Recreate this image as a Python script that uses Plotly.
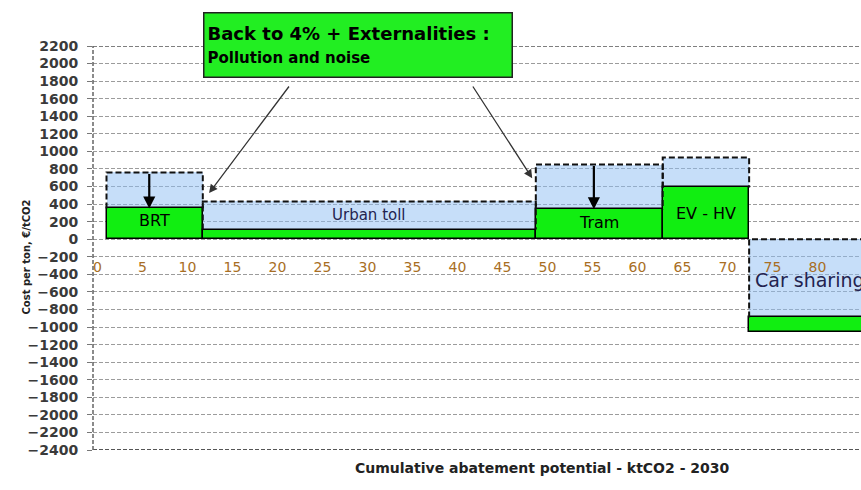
import plotly.graph_objects as go

# ---------------- data ----------------
names = ["BRT", "Urban toll", "Tram", "EV - HV", "Car sharing"]
x_start = [1.0, 11.7, 48.7, 62.8, 72.4]
x_end = [11.7, 48.7, 62.8, 72.4, 86.0]
cost_before = [760, 430, 850, 930, -890]     # light blue, dashed outline
cost_after = [350, 110, 340, 590, -1060]     # green
label_y = [217, 274, 194, 296, -467]
label_size = [16, 15, 16, 16, 19]
label_color = ["#000000", "#23234f", "#000000", "#000000", "#23234f"]
arrow_bars = ["BRT", "Tram"]

y_ticks = list(range(-2400, 2201, 200))
x_ticks = list(range(0, 86, 5))

callout_x = [12.4, 48.3]
callout_y = [525, 695]
callout_tail_x = [21.4, 41.6]
callout_tail_y = [1756, 1756]

Y_MIN, Y_MAX = -2400, 2200
X_MIN, X_MAX = -0.5, 84.83

FONT = "DejaVu Sans"
BLUE = "rgba(141,189,243,0.5)"
GREEN = "#11EE11"

centers = [(a + b) / 2 for a, b in zip(x_start, x_end)]
widths = [b - a for a, b in zip(x_start, x_end)]

fig = go.Figure()

# blue (before) bars
fig.add_trace(go.Bar(
    x=centers, y=cost_before, base=[0] * len(names), width=widths,
    marker=dict(color=BLUE, line=dict(width=0)), hoverinfo="skip"))

# green (after) bars
g_base, g_len = [], []
for b, a in zip(cost_before, cost_after):
    if a < 0 and b < 0:
        g_base.append(b)
        g_len.append(a - b)
    else:
        g_base.append(0)
        g_len.append(a)
fig.add_trace(go.Bar(
    x=centers, y=g_len, base=g_base, width=widths,
    marker=dict(color=GREEN, line=dict(color="#000000", width=1.5)),
    hoverinfo="skip"))

# dashed outlines of the blue parts
for s, e, b, a in zip(x_start, x_end, cost_before, cost_after):
    if b >= 0:
        near, far = a, b
    else:
        near, far = b, 0
    fig.add_trace(go.Scatter(
        x=[s, s, e, e], y=[near, far, far, near], mode="lines",
        line=dict(color="#111111", width=2, dash="6px,3px"),
        hoverinfo="skip"))

annotations = []
# bar labels
for n, c, ly, sz, col in zip(names, centers, label_y, label_size, label_color):
    annotations.append(dict(x=c, y=ly, xref="x", yref="y", text=n, showarrow=False,
                            font=dict(family=FONT, size=sz, color=col)))

# down arrows
for n, c, b, a in zip(names, centers, cost_before, cost_after):
    if n in arrow_bars:
        annotations.append(dict(x=c - 0.6, y=a, ax=c - 0.6, ay=b, xref="x", yref="y",
                                axref="x", ayref="y", text="", showarrow=True,
                                arrowhead=2, arrowsize=1.1, arrowwidth=2.2,
                                arrowcolor="#000000"))

# callout arrows
for tx, ty, hx, hy in zip(callout_tail_x, callout_tail_y, callout_x, callout_y):
    annotations.append(dict(x=hx, y=hy, ax=tx, ay=ty, xref="x", yref="y",
                            axref="x", ayref="y", text="", showarrow=True,
                            arrowhead=2, arrowsize=1.3, arrowwidth=1.3,
                            arrowcolor="#333333"))

# callout box
annotations.append(dict(
    x=(203 - 93) / 768, y=(450 - 12) / 404, xref="paper", yref="paper",
    xanchor="left", yanchor="top", align="left", showarrow=False,
    text="<b>Back to 4% + Externalities :</b><br><span style='font-size:15px'><b>Pollution and noise</b></span>",
    font=dict(family=FONT, size=18, color="#000000"),
    bgcolor="#22EE22", bordercolor="#222222", borderwidth=1.5, borderpad=3,
    width=301, height=57, valign="middle"))

# axis titles
annotations.append(dict(
    x=(18 - 93) / 768, y=(450 - 257) / 404, xref="paper", yref="paper",
    text="<b>Cost per ton, €/tCO2</b>", textangle=-90, showarrow=False,
    font=dict(family=FONT, size=10, color="#222222")))
annotations.append(dict(
    x=(542 - 93) / 768, y=(450 - 478) / 404, xref="paper", yref="paper",
    text="<b>Cumulative abatement potential - ktCO2 - 2030</b>", showarrow=False,
    font=dict(family=FONT, size=14, color="#222222")))

shapes = [
    dict(type="line", xref="paper", yref="y", x0=0, x1=1, y0=Y_MAX, y1=Y_MAX,
         line=dict(color="#555555", width=1.5, dash="4px,2px"), layer="above"),
    dict(type="line", xref="paper", yref="y", x0=0, x1=1, y0=Y_MIN, y1=Y_MIN,
         line=dict(color="#555555", width=2, dash="4px,2px"), layer="above"),
    dict(type="line", xref="paper", yref="paper", x0=0, x1=0, y0=0, y1=1,
         line=dict(color="#666666", width=1.5, dash="4px,2px"), layer="above"),
]

fig.update_layout(
    width=861, height=490,
    margin=dict(l=93, r=0, t=46, b=40, autoexpand=False),
    plot_bgcolor="white", paper_bgcolor="white",
    showlegend=False, barmode="overlay", bargap=0,
    annotations=annotations, shapes=shapes,
    xaxis=dict(range=[X_MIN, X_MAX], tickvals=x_ticks, ticktext=[str(v) for v in x_ticks],
               anchor="free", position=(0 - Y_MIN) / (Y_MAX - Y_MIN),
               showgrid=False, zeroline=False, showline=False, ticks="",
               ticklabelstandoff=18,
               tickfont=dict(family=FONT, size=14, color="#a86e24")),
    yaxis=dict(range=[Y_MIN, Y_MAX], tickvals=y_ticks,
               showgrid=True, gridcolor="#9c9c9c", gridwidth=1, griddash="4px,2px",
               zeroline=False, showline=False, ticks="outside", ticklen=5,
               tickcolor="#777777", ticklabelstandoff=6,
               tickfont=dict(family=FONT, size=14, color="#3a3a3a", weight="bold")),
)

fig.write_html("out.html")
